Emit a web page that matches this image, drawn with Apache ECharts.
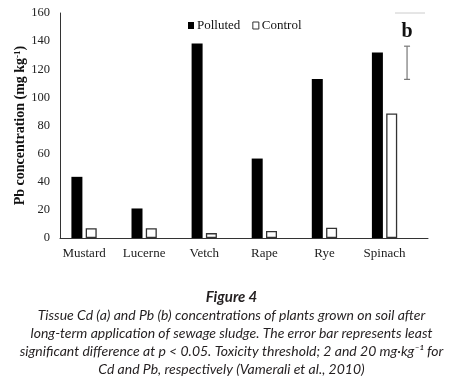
<!DOCTYPE html>
<html>
<head>
<meta charset="utf-8">
<script src="https://cdn.jsdelivr.net/npm/echarts@6/dist/echarts.min.js"></script>
<style>
  html, body { margin: 0; padding: 0; background: #fff; }
  #chart { width: 463px; height: 382px; }
</style>
</head>
<body>
<div id="chart"></div>
<script>
  // data
  var plants = ['Mustard', 'Lucerne', 'Vetch', 'Rape', 'Rye', 'Spinach'];
  var polluted = [43.5, 21, 138.3, 56.5, 113, 132];
  var control = [6.9, 6.9, 3.5, 5, 7.3, 88.6];
  var lsdBar = [112.8, 136.4]; // least significant difference bar
  var captionLines = [
    'Tissue Cd (a) and Pb (b) concentrations of plants grown on soil after',
    'long-term application of sewage sludge. The error bar represents least',
    'significant difference at p < 0.05. Toxicity threshold; 2 and 20 mg\u00b7kg\u207b\u00b9 for',
    'Cd and Pb, respectively (Vamerali et al., 2010)'
  ];

  var serif = '"Liberation Serif", "Times New Roman", serif';
  var capFont = 'Lato, "Open Sans", sans-serif';

  var captionGraphics = [{
    type: 'text', left: 'center', top: 290,
    style: { text: 'Figure 4', font: 'italic bold 15px ' + capFont, fill: '#231f20' }
  }, {
    // faint rule at the top right of the panel
    type: 'line', shape: { x1: 395, y1: 13, x2: 425, y2: 13 },
    style: { stroke: '#ccc', lineWidth: 1 }
  }];
  captionLines.forEach(function(t, i) {
    captionGraphics.push({
      type: 'text', left: 'center', top: 308 + i * 18,
      style: { text: t, font: 'italic 14px ' + capFont, fill: '#231f20' }
    });
  });

  var myChart = echarts.init(document.getElementById('chart'));
  var option = {
    animation: false,
    grid: [
      { left: 54, right: 48.4, top: 13, bottom: 144 }, // bars
      { left: 60, right: 35, top: 13, bottom: 144 }    // axis frame
    ],
    legend: {
      top: 14, left: 183,
      itemWidth: 6, itemHeight: 7, itemGap: 12,
      textStyle: { fontFamily: serif, fontSize: 13, color: '#111', padding: [0, 0, 0, -2] },
      data: [
        { name: 'Polluted', icon: 'rect' },
        { name: 'Control', icon: 'rect', itemStyle: { color: '#fff', borderColor: '#333', borderWidth: 1 } }
      ]
    },
    xAxis: [{
      type: 'category', gridIndex: 0,
      data: plants,
      axisLine: { show: false },
      axisTick: { show: false },
      axisLabel: { fontFamily: serif, fontSize: 13, color: '#222', margin: 9 }
    }, {
      type: 'category', gridIndex: 1,
      data: plants,
      axisLine: { show: true, lineStyle: { color: '#333', width: 1 } },
      axisTick: { show: false },
      axisLabel: { show: false }
    }],
    yAxis: [{
      type: 'value', gridIndex: 0,
      min: 0, max: 160, interval: 20,
      axisLine: { show: false },
      axisTick: { show: false },
      splitLine: { show: false },
      axisLabel: { show: false }
    }, {
      type: 'value', gridIndex: 1,
      min: 0, max: 160, interval: 20,
      name: '{b|Pb concentration (mg kg}{s|-1}{b|)}',
      nameLocation: 'middle',
      nameGap: 32,
      nameMoveOverlap: false,
      nameTextStyle: {
        rich: {
          b: { fontFamily: serif, fontSize: 14, fontWeight: 'bold', color: '#111' },
          s: { fontFamily: serif, fontSize: 9, fontWeight: 'bold', color: '#111', verticalAlign: 'top', padding: [0, 0, 6, 0] }
        }
      },
      axisLine: { show: true, lineStyle: { color: '#333', width: 1 } },
      axisTick: { show: false },
      splitLine: { show: false },
      axisLabel: { fontFamily: serif, fontSize: 12.5, color: '#222', margin: 10 }
    }],
    series: [
      {
        name: 'Polluted', type: 'bar', data: polluted,
        xAxisIndex: 0, yAxisIndex: 0,
        barWidth: 11, barGap: '30%',
        itemStyle: { color: '#000' }
      },
      {
        name: 'Control', type: 'bar', data: control,
        xAxisIndex: 0, yAxisIndex: 0,
        barWidth: 11,
        itemStyle: { color: '#fff', borderColor: '#333', borderWidth: 1.3 }
      },
      {
        name: 'LSD', type: 'custom',
        xAxisIndex: 0, yAxisIndex: 0,
        data: [[plants.length - 1, lsdBar[0], lsdBar[1]]],
        renderItem: function(params, api) {
          var lo = api.coord([api.value(0), api.value(1)]);
          var hi = api.coord([api.value(0), api.value(2)]);
          var x = lo[0] + 22.5;
          var style = { stroke: '#777', lineWidth: 1.2 };
          return {
            type: 'group',
            children: [
              { type: 'line', shape: { x1: x, y1: lo[1], x2: x, y2: hi[1] }, style: style },
              { type: 'line', shape: { x1: x - 3, y1: lo[1], x2: x + 3, y2: lo[1] }, style: style },
              { type: 'line', shape: { x1: x - 3, y1: hi[1], x2: x + 3, y2: hi[1] }, style: style },
              { type: 'text', x: x, y: hi[1] - 4, style: { text: 'b', font: 'bold 20px ' + serif, fill: '#111', textAlign: 'center', textVerticalAlign: 'bottom' } }
            ]
          };
        },
        z: 5
      }
    ],
    graphic: captionGraphics
  };
  myChart.setOption(option);
</script>
</body>
</html>
